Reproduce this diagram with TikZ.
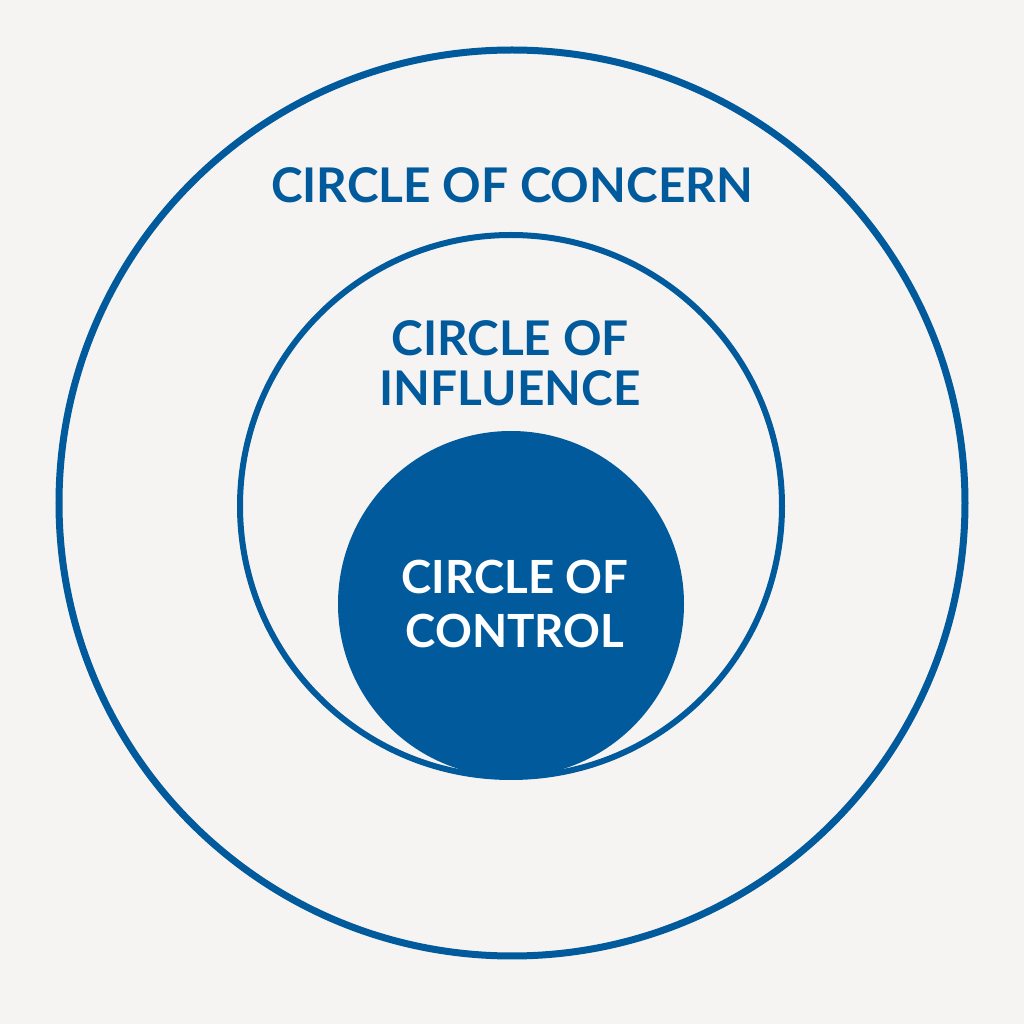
\documentclass[tikz,border=0pt]{standalone}
\usepackage{fontspec}
\setmainfont{Lato}
\usepackage{tikz}
\usetikzlibrary{positioning}
\definecolor{ccBlue}{RGB}{0, 90, 156}
\definecolor{ccPaper}{RGB}{245, 244, 242}
\tikzset{
    base/.style={
        font=\bfseries,
        align=center,
        inner sep=0pt
    },
    ring/.style={
        circle,
        draw=ccBlue,
        fill=none,
        inner sep=0pt
    },
    core/.style={
        circle,
        fill=ccBlue,
        draw=none,
        inner sep=0pt
    },
    heading/.style={
        base,
        text=ccBlue,
        font=\bfseries\fontsize{13.6}{14.2}\selectfont
    },
    inside/.style={
        base,
        text=white,
        font=\bfseries\fontsize{13.0}{15.6}\selectfont
    }
}
\begin{document}
\begin{tikzpicture}
  \useasboundingbox (0,0) rectangle (10.24,10.24);
  \fill[ccPaper] (0,0) rectangle (10.24,10.24);

  % Rings
  \node[ring, line width=0.07cm, minimum size=9.06cm] (concern) at (5.12,5.21) {};
  \node[ring, line width=0.06cm, minimum size=5.42cm] (influence) at (5.11,5.18) {};
  \node[core, minimum size=3.46cm] (control) at (5.11,4.20) {};

  % Labels
  \node[heading] (concernText) at (5.12,8.39) {CIRCLE OF CONCERN};
  \node[heading] (influenceText) at (5.10,6.61) {CIRCLE OF\\INFLUENCE};
  \node[inside] (controlText) at (5.15,4.20) {CIRCLE OF\\CONTROL};
\end{tikzpicture}
\end{document}
